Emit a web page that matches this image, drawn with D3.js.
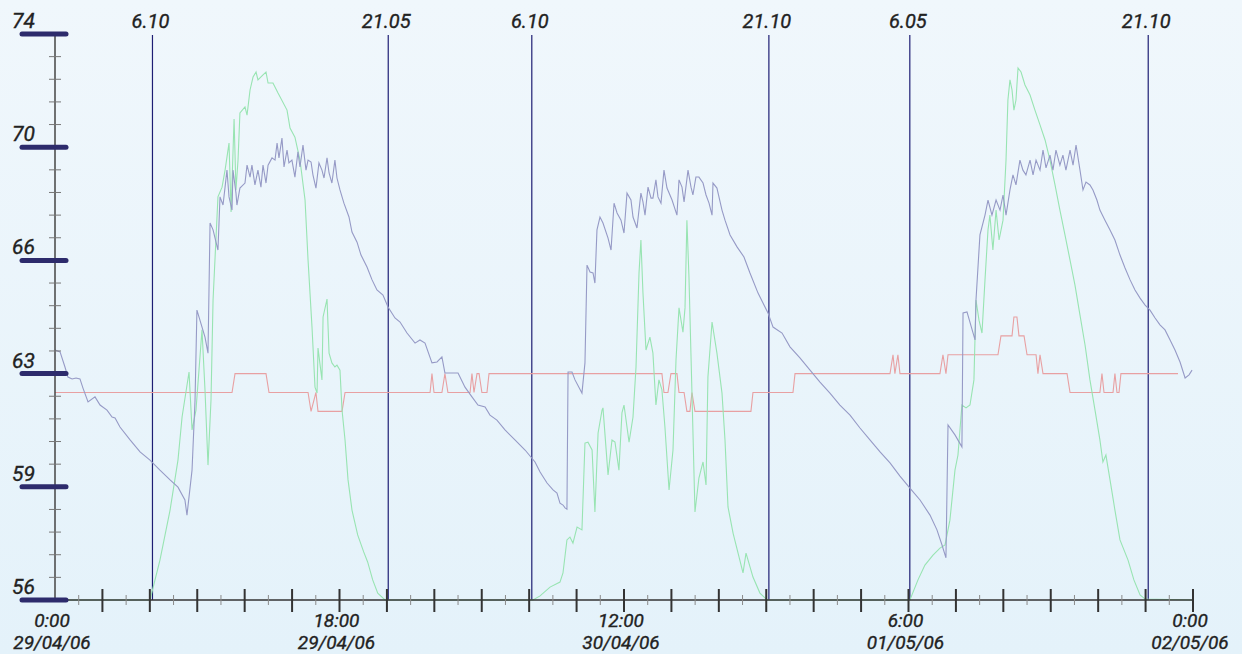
<!DOCTYPE html>
<html>
<head>
<meta charset="utf-8">
<script src="https://d3js.org/d3.v7.min.js"></script>
<style>
  html, body { margin: 0; padding: 0; overflow: hidden; }
  svg { display: block; }
  text { font-family: Roboto, "DejaVu Sans Condensed", sans-serif; font-style: italic; fill: #222; stroke: #222; stroke-width: 0.35px; }
</style>
</head>
<body>
<div id="chart"></div>
<script>
// hours since 29/04/06 0:00 , value
var startDate = Date.UTC(2006, 3, 29, 0, 0);

var blueSeries = [
  [0,63.95],[0.32,63.89],[0.63,63.41],[0.82,63.09],[1.08,63.03],[1.33,63.06],[1.58,63.03],[1.77,62.74],
  [2.09,62.30],[2.53,62.46],[2.85,62.20],[3.29,62.04],[3.61,61.82],[3.80,61.79],[4.11,61.50],[4.75,61.09],
  [5.38,60.71],[6.01,60.45],[6.64,60.13],[7.28,59.82],[7.78,59.59],[8.22,59.18],[8.35,58.70],[8.67,60.13],
  [8.86,62.36],[8.98,65.22],[9.17,64.90],[9.49,64.36],[9.68,63.85],[9.81,67.99],[10.00,67.77],[10.31,67.13],
  [10.44,68.82],[10.63,68.56],[10.76,69.13],[10.88,69.67],[11.01,68.82],[11.20,68.40],[11.26,69.67],[11.45,68.94],
  [11.51,68.56],[11.70,69.10],[12.02,69.26],[12.15,69.83],[12.34,69.45],[12.46,69.83],[12.65,69.20],[12.84,69.67],
  [13.03,69.13],[13.16,69.83],[13.35,69.26],[13.48,69.83],[13.73,70.06],[13.92,69.99],[14.05,70.53],[14.17,70.06],
  [14.36,70.69],[14.49,69.77],[14.68,70.31],[14.80,69.90],[14.99,69.99],[15.18,69.45],[15.37,70.25],[15.50,69.77],
  [15.69,70.47],[15.88,69.67],[16.01,69.99],[16.20,69.93],[16.32,69.52],[16.51,69.10],[16.70,69.90],[16.89,69.67],
  [17.02,69.42],[17.21,70.06],[17.34,69.58],[17.52,69.26],[17.71,69.99],[17.84,69.42],[18.03,69.04],[18.28,68.62],
  [18.60,68.18],[18.79,67.70],[19.11,67.38],[19.36,66.97],[19.74,66.59],[20.06,66.18],[20.37,65.86],[20.75,65.70],
  [21.07,65.32],[21.51,64.97],[21.83,64.84],[22.27,64.49],[22.78,64.17],[23.09,64.27],[23.41,64.17],[23.85,63.54],
  [24.17,63.57],[24.48,63.73],[24.67,63.22],[25.50,63.22],[25.94,62.77],[26.38,62.46],[26.76,62.20],[27.21,62.14],
  [27.52,61.88],[27.96,61.72],[28.47,61.41],[29.10,61.09],[29.74,60.77],[30.37,60.39],[30.69,60.07],[31.13,59.72],
  [31.51,59.50],[31.76,59.40],[31.95,59.08],[32.14,59.02],[32.27,58.93],[32.39,58.89],[32.46,63.25],[32.71,63.25],
  [32.90,63.00],[33.34,62.58],[33.53,63.54],[33.66,66.65],[33.85,66.43],[34.04,66.40],[34.16,66.08],[34.29,67.77],
  [34.48,68.18],[34.67,67.99],[34.99,67.51],[35.18,67.13],[35.37,68.62],[35.56,68.31],[35.81,68.08],[36.00,67.67],
  [36.19,68.94],[36.44,68.72],[36.57,68.18],[36.82,67.83],[37.07,68.94],[37.20,68.66],[37.33,68.24],[37.52,69.13],
  [37.71,68.78],[37.83,68.78],[38.02,69.36],[38.15,68.82],[38.34,68.62],[38.53,69.67],[38.72,69.10],[39.04,68.72],
  [39.35,68.24],[39.48,69.36],[39.67,69.13],[39.80,68.66],[40.05,69.67],[40.24,69.13],[40.36,68.88],[40.55,69.45],
  [40.74,69.45],[41.00,69.26],[41.19,68.88],[41.38,68.62],[41.57,68.24],[41.63,69.26],[41.88,69.10],[42.20,68.40],
  [42.39,68.08],[42.71,67.61],[43.15,67.23],[43.59,66.91],[43.97,66.40],[44.48,65.76],[45.11,65.13],[45.43,64.68],
  [46.00,64.49],[46.50,64.05],[47.13,63.70],[47.77,63.31],[48.40,62.93],[49.03,62.58],[49.66,62.20],[50.30,61.88],
  [50.93,61.47],[51.56,61.09],[52.20,60.71],[52.83,60.36],[53.46,59.94],[54.09,59.56],[54.73,59.18],[55.36,58.70],
  [55.80,58.23],[56.12,57.75],[56.37,57.34],[56.50,61.57],[56.94,61.25],[57.38,60.87],[57.45,65.13],[57.70,65.16],
  [58.21,64.27],[58.27,65.54],[58.52,67.61],[58.84,68.24],[59.03,68.72],[59.28,68.24],[59.54,68.72],[59.79,68.40],
  [59.98,68.88],[60.17,68.24],[60.42,69.04],[60.61,69.52],[60.80,69.20],[61.05,69.99],[61.24,69.67],[61.43,69.52],
  [61.69,69.99],[61.88,69.52],[62.07,69.99],[62.32,69.67],[62.51,70.31],[62.70,69.74],[62.95,70.15],[63.14,69.67],
  [63.33,70.31],[63.58,69.83],[63.77,70.15],[63.96,69.67],[64.22,70.31],[64.41,69.83],[64.60,70.47],[64.85,69.67],
  [65.04,69.04],[65.23,69.29],[65.48,69.20],[65.67,69.04],[65.92,68.72],[66.11,68.40],[66.43,68.08],[66.75,67.77],
  [67.06,67.45],[67.38,66.97],[67.70,66.56],[68.02,66.18],[68.33,65.86],[68.65,65.60],[68.97,65.38],[69.28,65.22],
  [69.60,64.97],[69.91,64.75],[70.23,64.59],[70.55,64.27],[70.86,63.95],[71.18,63.57],[71.50,63.06],[71.75,63.16],
  [71.94,63.31]
];

var greenSeries = [
  [0,56],[6.01,56],[6.64,57.27],[7.28,58.86],[7.78,60.45],[8.04,61.82],[8.48,63.25],[8.67,61.41],[8.92,62.04],
  [9.30,64.59],[9.49,62.68],[9.68,60.29],[9.87,62.36],[10.00,65.54],[10.31,68.82],[10.57,69.13],[10.76,69.67],
  [11.01,70.53],[11.14,68.34],[11.33,71.30],[11.45,69.04],[11.58,69.99],[11.70,71.49],[12.02,71.68],[12.15,71.42],
  [12.34,72.22],[12.53,72.63],[12.72,72.79],[12.84,72.54],[13.16,72.70],[13.35,72.79],[13.48,72.44],[13.79,72.44],
  [14.11,72.12],[14.68,71.58],[14.87,71.01],[15.18,70.72],[15.50,69.99],[15.82,68.72],[16.01,66.81],[16.26,64.68],
  [16.45,62.77],[16.58,62.58],[16.64,64.01],[16.89,63.00],[16.96,65.00],[17.21,65.57],[17.34,63.85],[17.52,63.54],
  [17.71,63.41],[17.84,63.47],[18.03,63.31],[18.16,62.04],[18.35,61.09],[18.54,59.82],[18.79,58.86],[19.15,58.07],
  [19.53,57.53],[19.78,57.21],[20.10,56.64],[20.42,56.22],[20.88,56],
  [30.24,56],[30.69,56.13],[31.32,56.41],[31.95,56.57],[32.14,56.86],[32.39,57.91],[32.58,58.00],[32.77,57.81],
  [33.03,58.32],[33.34,58.23],[33.53,60.99],[33.72,61.02],[33.98,60.77],[34.16,58.80],[34.36,61.31],[34.61,62.04],
  [34.67,62.11],[34.99,59.98],[35.24,61.09],[35.43,61.02],[35.68,60.13],[35.87,61.95],[36.00,62.20],[36.32,61.02],
  [36.57,61.82],[36.76,63.41],[36.95,66.40],[37.07,67.45],[37.20,65.76],[37.39,63.95],[37.64,64.36],[37.83,63.85],
  [38.02,62.20],[38.21,63.00],[38.40,62.68],[38.59,61.50],[38.85,59.50],[39.10,60.77],[39.29,63.63],[39.48,65.29],
  [39.73,64.52],[39.86,65.29],[39.98,68.08],[40.11,66.27],[40.30,62.58],[40.49,58.80],[40.74,59.88],[41.00,60.39],
  [41.19,59.66],[41.31,63.09],[41.57,64.84],[41.88,63.85],[42.20,62.58],[42.39,61.09],[42.58,58.96],[42.90,58.13],
  [43.53,56.86],[43.72,57.49],[44.16,56.73],[44.60,56.22],[45.05,56],
  [54.09,56],[54.60,56.64],[55.04,57.11],[55.55,57.43],[55.99,57.65],[56.31,57.75],[56.62,58.54],[56.94,60.13],
  [57.13,60.61],[57.38,62.20],[57.64,62.11],[57.89,62.20],[58.14,63.00],[58.27,65.54],[58.46,64.90],[58.65,64.49],
  [58.84,66.18],[59.03,67.77],[59.15,68.24],[59.34,67.13],[59.54,68.40],[59.73,67.45],[59.98,68.08],[60.17,69.99],
  [60.29,71.90],[60.42,72.54],[60.55,72.22],[60.67,71.58],[60.80,71.90],[60.93,72.92],[61.12,72.79],[61.37,72.38],
  [61.69,72.06],[62.00,71.58],[62.32,71.11],[62.64,70.63],[62.95,69.99],[63.27,69.20],[63.58,68.40],[63.90,67.61],
  [64.22,66.81],[64.53,66.02],[64.85,65.06],[65.17,64.11],[65.48,63.00],[65.80,62.04],[66.11,61.09],[66.30,60.39],
  [66.49,60.61],[66.75,59.82],[67.06,58.86],[67.38,57.91],[67.89,57.27],[68.26,56.64],[68.65,56.16],[68.97,56.03],
  [72,56]
];

var redSeries = [
  [0,62.6],[11.20,62.6],[11.39,63.2],[13.35,63.2],[13.54,62.6],[16.01,62.6],[16.20,62.0],[16.51,62.6],[16.64,62.0],
  [18.16,62.0],[18.35,62.6],[23.73,62.6],[23.85,63.2],[23.98,62.6],[24.48,62.6],[24.67,63.2],[24.86,62.6],
  [26.26,62.6],[26.38,63.2],[26.51,62.6],[26.70,63.2],[26.83,63.2],[27.01,62.6],[27.33,62.6],[27.46,63.2],
  [38.40,63.2],[38.53,62.6],[38.78,62.6],[38.97,63.2],[39.35,63.2],[39.48,62.6],[39.80,62.6],[39.98,62.0],
  [40.17,62.0],[40.30,62.6],[40.49,62.0],[44.03,62.0],[44.16,62.6],[46.69,62.6],[46.82,63.2],[52.83,63.2],
  [53.02,63.8],[53.14,63.2],[53.33,63.8],[53.46,63.2],[55.99,63.2],[56.18,63.8],[56.37,63.2],[56.50,63.8],
  [59.66,63.8],[59.85,64.4],[60.55,64.4],[60.67,65.0],[60.86,65.0],[60.99,64.4],[61.31,64.4],[61.50,63.8],
  [62.07,63.8],[62.19,63.2],[62.32,63.8],[62.51,63.2],[64.03,63.2],[64.22,62.6],[66.11,62.6],[66.24,63.2],
  [66.37,62.6],[66.94,62.6],[67.06,63.2],[67.19,62.6],[67.32,62.6],[67.44,63.2],[71.05,63.2]
];

var sunTimes = ["2006-04-29T06:10Z", "2006-04-29T21:05Z", "2006-04-30T06:10Z",
                "2006-04-30T21:10Z", "2006-05-01T06:05Z", "2006-05-01T21:10Z"];

var xLabelHours = [0, 18, 36, 54, 72];
var yTicks = [56, 59.6, 63.2, 66.8, 70.4, 74];
var yTickLabels = ["56", "59", "63", "66", "70", "74"];

var w = 1242, h = 654;
var svg = d3.select('#chart').append('svg').attr('width', w).attr('height', h);

var grad = svg.append('defs').append('linearGradient')
    .attr('id', 'bg').attr('x1', 0).attr('y1', 0).attr('x2', 0).attr('y2', 1);
grad.append('stop').attr('offset', '0%').attr('stop-color', '#f0f7fc');
grad.append('stop').attr('offset', '100%').attr('stop-color', '#e4f2fa');
svg.append('rect').attr('width', w).attr('height', h).attr('fill', 'url(#bg)');

var x = d3.scaleUtc()
    .domain([new Date(startDate), new Date(startDate + 72 * 3600e3)])
    .range([55, 1193]);
var y = d3.scaleLinear().domain([56, 74]).range([600, 34]);

function toDate(hr) { return new Date(startDate + hr * 3600e3); }

// sunrise / sunset lines
var sun = svg.append('g');
sunTimes.forEach(function(s) {
    var d = new Date(s);
    sun.append('line')
        .attr('x1', x(d)).attr('x2', x(d))
        .attr('y1', 35).attr('y2', y(56))
        .attr('stroke', '#1e1e74').attr('stroke-width', 1.2);
    sun.append('text')
        .attr('x', x(d) - 2).attr('y', 28)
        .attr('text-anchor', 'middle')
        .style('font-size', '20px')
        .text(d3.utcFormat('%-H.%M')(d));
});

var line = d3.line()
    .x(function(d) { return x(toDate(d[0])); })
    .y(function(d) { return y(d[1]); });

svg.append('path').datum(redSeries).attr('d', line)
    .attr('fill', 'none').attr('stroke', '#e8a0a2').attr('stroke-width', 1.1);
svg.append('path').datum(greenSeries).attr('d', line)
    .attr('fill', 'none').attr('stroke', '#98e4b2').attr('stroke-width', 1.1);
svg.append('path').datum(blueSeries).attr('d', line)
    .attr('fill', 'none').attr('stroke', '#969ac6').attr('stroke-width', 1.1);

// x axis
var xa = svg.append('g');
xa.append('line').attr('x1', x.range()[0]).attr('x2', x.range()[1])
    .attr('y1', y(56)).attr('y2', y(56)).attr('stroke', '#333').attr('stroke-width', 1.5);
d3.range(1.5, 72.01, 1.5).forEach(function(hr) {
    var t = toDate(hr);
    var major = hr % 3 === 0;
    xa.append('line').attr('x1', x(t)).attr('x2', x(t))
        .attr('y1', major ? 589 : 595).attr('y2', major ? 612 : 605)
        .attr('stroke', major ? '#333' : '#8a8a8a').attr('stroke-width', major ? 2 : 1);
});
xLabelHours.forEach(function(hr) {
    var t = toDate(hr);
    var g = xa.append('text').attr('text-anchor', 'middle').style('font-size', '19px');
    g.append('tspan').attr('x', x(t) - 3).attr('y', 627).text(d3.utcFormat('%-H:%M')(t));
    g.append('tspan').attr('x', x(t) - 3).attr('y', 649).text(d3.utcFormat('%d/%m/%y')(t));
});

// y axis
var ya = svg.append('g');
ya.append('line').attr('x1', 55).attr('x2', 55).attr('y1', y(74)).attr('y2', y(56))
    .attr('stroke', '#444').attr('stroke-width', 1.5);
for (var i = 0; i < yTicks.length - 1; i++) {
    for (var k = 1; k < 5; k++) {
        var v = yTicks[i] + (yTicks[i + 1] - yTicks[i]) * k / 5;
        ya.append('line').attr('x1', 49).attr('x2', 61).attr('y1', y(v)).attr('y2', y(v))
            .attr('stroke', '#777').attr('stroke-width', 1);
    }
}
yTicks.forEach(function(v, i) {
    ya.append('line').attr('x1', 22).attr('x2', 66).attr('y1', y(v)).attr('y2', y(v))
        .attr('stroke', '#2d2b6c').attr('stroke-width', 5).attr('stroke-linecap', 'round');
    ya.append('text').attr('x', 12).attr('y', y(v) - 6)
        .style('font-size', '21px').text(yTickLabels[i]);
});
</script>
</body>
</html>
